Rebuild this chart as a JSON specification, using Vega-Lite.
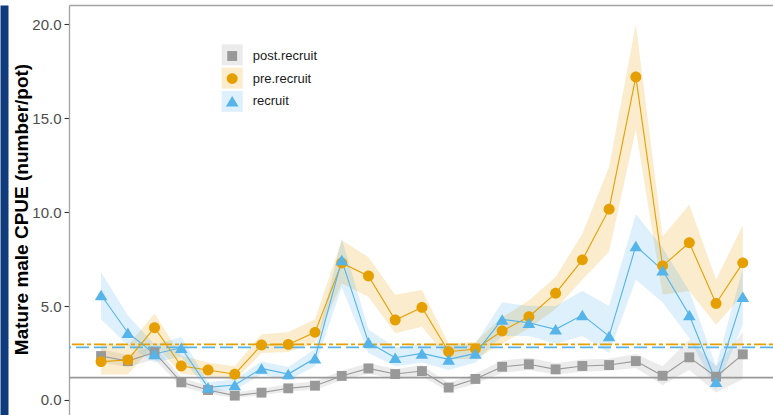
{
  "$schema": "https://vega.github.io/schema/vega-lite/v6.json",
  "width": 704,
  "height": 410,
  "autosize": {"type": "none"},
  "padding": {"left": 69, "top": 5, "right": 0, "bottom": 0},
  "background": "white",
  "config": {
    "view": {"stroke": null},
    "font": "Liberation Sans",
    "axis": {"grid": false}
  },
  "datasets": {
    "cpue": [
      {"year": 1995, "series": "post.recruit", "cpue": 2.34, "lo": 2.0, "hi": 2.7},
      {"year": 1996, "series": "post.recruit", "cpue": 2.07, "lo": 1.75, "hi": 2.4},
      {"year": 1997, "series": "post.recruit", "cpue": 2.54, "lo": 2.15, "hi": 2.9},
      {"year": 1998, "series": "post.recruit", "cpue": 0.94, "lo": 0.7, "hi": 1.2},
      {"year": 1999, "series": "post.recruit", "cpue": 0.53, "lo": 0.35, "hi": 0.75},
      {"year": 2000, "series": "post.recruit", "cpue": 0.23, "lo": 0.1, "hi": 0.4},
      {"year": 2001, "series": "post.recruit", "cpue": 0.39, "lo": 0.25, "hi": 0.6},
      {"year": 2002, "series": "post.recruit", "cpue": 0.62, "lo": 0.45, "hi": 0.85},
      {"year": 2003, "series": "post.recruit", "cpue": 0.76, "lo": 0.55, "hi": 1.0},
      {"year": 2004, "series": "post.recruit", "cpue": 1.28, "lo": 1.05, "hi": 1.55},
      {"year": 2005, "series": "post.recruit", "cpue": 1.68, "lo": 1.4, "hi": 1.95},
      {"year": 2006, "series": "post.recruit", "cpue": 1.38, "lo": 1.1, "hi": 1.65},
      {"year": 2007, "series": "post.recruit", "cpue": 1.54, "lo": 1.25, "hi": 1.85},
      {"year": 2008, "series": "post.recruit", "cpue": 0.66, "lo": 0.45, "hi": 0.9},
      {"year": 2009, "series": "post.recruit", "cpue": 1.12, "lo": 0.85, "hi": 1.4},
      {"year": 2010, "series": "post.recruit", "cpue": 1.77, "lo": 1.45, "hi": 2.1},
      {"year": 2011, "series": "post.recruit", "cpue": 1.9, "lo": 1.6, "hi": 2.25},
      {"year": 2012, "series": "post.recruit", "cpue": 1.63, "lo": 1.35, "hi": 1.95},
      {"year": 2013, "series": "post.recruit", "cpue": 1.81, "lo": 1.5, "hi": 2.15},
      {"year": 2014, "series": "post.recruit", "cpue": 1.86, "lo": 1.55, "hi": 2.2},
      {"year": 2015, "series": "post.recruit", "cpue": 2.07, "lo": 1.7, "hi": 2.45},
      {"year": 2016, "series": "post.recruit", "cpue": 1.29, "lo": 0.8, "hi": 1.8},
      {"year": 2017, "series": "post.recruit", "cpue": 2.27, "lo": 1.6, "hi": 3.2},
      {"year": 2018, "series": "post.recruit", "cpue": 1.24, "lo": 0.4, "hi": 1.8},
      {"year": 2019, "series": "post.recruit", "cpue": 2.43, "lo": 1.1, "hi": 3.6},
      {"year": 1995, "series": "pre.recruit", "cpue": 2.04, "lo": 1.35, "hi": 3.0},
      {"year": 1996, "series": "pre.recruit", "cpue": 2.13, "lo": 1.35, "hi": 2.9},
      {"year": 1997, "series": "pre.recruit", "cpue": 3.85, "lo": 2.95, "hi": 4.6},
      {"year": 1998, "series": "pre.recruit", "cpue": 1.81, "lo": 1.4, "hi": 2.35},
      {"year": 1999, "series": "pre.recruit", "cpue": 1.6, "lo": 1.25, "hi": 2.0},
      {"year": 2000, "series": "pre.recruit", "cpue": 1.37, "lo": 1.05, "hi": 1.8},
      {"year": 2001, "series": "pre.recruit", "cpue": 2.93, "lo": 2.5, "hi": 3.5},
      {"year": 2002, "series": "pre.recruit", "cpue": 2.96, "lo": 2.55, "hi": 3.6},
      {"year": 2003, "series": "pre.recruit", "cpue": 3.6, "lo": 3.05, "hi": 4.3},
      {"year": 2004, "series": "pre.recruit", "cpue": 7.29, "lo": 6.2, "hi": 8.5},
      {"year": 2005, "series": "pre.recruit", "cpue": 6.6, "lo": 5.5, "hi": 7.6},
      {"year": 2006, "series": "pre.recruit", "cpue": 4.26, "lo": 3.55, "hi": 5.6},
      {"year": 2007, "series": "pre.recruit", "cpue": 4.93, "lo": 3.9, "hi": 5.85},
      {"year": 2008, "series": "pre.recruit", "cpue": 2.57, "lo": 2.15, "hi": 3.0},
      {"year": 2009, "series": "pre.recruit", "cpue": 2.71, "lo": 2.2, "hi": 3.1},
      {"year": 2010, "series": "pre.recruit", "cpue": 3.67, "lo": 3.0, "hi": 4.4},
      {"year": 2011, "series": "pre.recruit", "cpue": 4.43, "lo": 3.8, "hi": 5.3},
      {"year": 2012, "series": "pre.recruit", "cpue": 5.68, "lo": 4.85, "hi": 6.55},
      {"year": 2013, "series": "pre.recruit", "cpue": 7.46, "lo": 6.4, "hi": 8.85},
      {"year": 2014, "series": "pre.recruit", "cpue": 10.16, "lo": 7.9, "hi": 12.4},
      {"year": 2015, "series": "pre.recruit", "cpue": 17.2, "lo": 14.4, "hi": 20.0},
      {"year": 2016, "series": "pre.recruit", "cpue": 7.14, "lo": 5.6, "hi": 8.7},
      {"year": 2017, "series": "pre.recruit", "cpue": 8.37, "lo": 5.8, "hi": 10.4},
      {"year": 2018, "series": "pre.recruit", "cpue": 5.14, "lo": 4.0, "hi": 6.4},
      {"year": 2019, "series": "pre.recruit", "cpue": 7.3, "lo": 5.6, "hi": 9.3},
      {"year": 1995, "series": "recruit", "cpue": 5.59, "lo": 4.3, "hi": 6.8},
      {"year": 1996, "series": "recruit", "cpue": 3.58, "lo": 2.9, "hi": 4.5},
      {"year": 1997, "series": "recruit", "cpue": 2.45, "lo": 2.0, "hi": 2.95},
      {"year": 1998, "series": "recruit", "cpue": 2.78, "lo": 2.3, "hi": 3.35},
      {"year": 1999, "series": "recruit", "cpue": 0.67, "lo": 0.45, "hi": 0.95},
      {"year": 2000, "series": "recruit", "cpue": 0.8, "lo": 0.55, "hi": 1.1},
      {"year": 2001, "series": "recruit", "cpue": 1.68, "lo": 1.35, "hi": 2.05},
      {"year": 2002, "series": "recruit", "cpue": 1.38, "lo": 1.05, "hi": 1.75},
      {"year": 2003, "series": "recruit", "cpue": 2.22, "lo": 1.8, "hi": 2.7},
      {"year": 2004, "series": "recruit", "cpue": 7.45, "lo": 6.0, "hi": 8.6},
      {"year": 2005, "series": "recruit", "cpue": 3.07, "lo": 2.5, "hi": 3.75},
      {"year": 2006, "series": "recruit", "cpue": 2.25, "lo": 1.8, "hi": 2.8},
      {"year": 2007, "series": "recruit", "cpue": 2.48, "lo": 2.0, "hi": 3.0},
      {"year": 2008, "series": "recruit", "cpue": 2.16, "lo": 1.6, "hi": 2.9},
      {"year": 2009, "series": "recruit", "cpue": 2.48, "lo": 2.0, "hi": 3.0},
      {"year": 2010, "series": "recruit", "cpue": 4.29, "lo": 3.4, "hi": 5.2},
      {"year": 2011, "series": "recruit", "cpue": 4.11, "lo": 3.4, "hi": 5.0},
      {"year": 2012, "series": "recruit", "cpue": 3.76, "lo": 3.0, "hi": 5.0},
      {"year": 2013, "series": "recruit", "cpue": 4.52, "lo": 3.4, "hi": 5.8},
      {"year": 2014, "series": "recruit", "cpue": 3.4, "lo": 2.5, "hi": 5.0},
      {"year": 2015, "series": "recruit", "cpue": 8.2, "lo": 6.4, "hi": 9.9},
      {"year": 2016, "series": "recruit", "cpue": 6.91, "lo": 5.2, "hi": 8.1},
      {"year": 2017, "series": "recruit", "cpue": 4.52, "lo": 3.3, "hi": 5.8},
      {"year": 2018, "series": "recruit", "cpue": 0.97, "lo": 0.55, "hi": 1.8},
      {"year": 2019, "series": "recruit", "cpue": 5.5, "lo": 4.0, "hi": 7.0}
    ],
    "means": [
      {"series": "post.recruit", "cpue": 1.19},
      {"series": "pre.recruit", "cpue": 2.96},
      {"series": "recruit", "cpue": 2.8}
    ]
  },
  "layer": [
    {
      "layer": [
        {
          "data": {"name": "cpue"},
          "transform": [{"calculate": "datum.series", "as": "band"}],
          "mark": {"type": "area", "fillOpacity": 0.2},
          "encoding": {
            "x": {
              "field": "year", "type": "quantitative",
              "scale": {"domain": [1993.8, 2020.13], "nice": false, "zero": false},
              "axis": {"orient": "top", "domain": true, "ticks": false, "labels": false, "title": null, "grid": false, "domainColor": "#a3a3a3", "domainWidth": 1.3}
            },
            "y": {
              "field": "lo", "type": "quantitative",
              "scale": {"domain": [-0.8, 21.03], "nice": false, "zero": false},
              "title": "Mature male CPUE (number/pot)",
              "axis": {
                "orient": "left", "values": [0, 5, 10, 15, 20], "format": ".1f", "grid": false,
                "domainColor": "#a3a3a3", "domainWidth": 1.3,
                "tickColor": "#333333", "tickSize": 5, "tickWidth": 1.1,
                "labelFontSize": 15, "labelColor": "#4d4d4d", "labelPadding": 3, "labelFont": "Liberation Sans",
                "titleFont": "Liberation Sans", "titleFontSize": 19, "titleFontWeight": "bold", "titleColor": "#000000",
                "titleX": -41.5, "titleY": 204, "titleBaseline": "alphabetic", "titleAlign": "center", "titleAngle": -90
              }
            },
            "y2": {"field": "hi"},
            "fill": {
              "field": "band", "type": "nominal",
              "scale": {"range": ["#999999", "#E69F00", "#56B4E9"]},
              "legend": {
                "orient": "none", "legendX": 152.7, "legendY": 39.3, "title": null, "padding": 0,
                "symbolType": "square", "symbolSize": 441, "symbolStrokeWidth": 0, "symbolOpacity": 0.2,
                "labelFontSize": 13, "labelOffset": 10, "rowPadding": 2.3, "labelExpr": "''"
              }
            }
          }
        },
        {
          "data": {"name": "means"},
          "mark": {"type": "rule", "strokeWidth": 1.8},
          "encoding": {
            "y": {"field": "cpue", "type": "quantitative", "title": "Mature male CPUE (number/pot)"},
            "stroke": {"field": "series", "type": "nominal", "scale": {"range": ["#999999", "#E69F00", "#56B4E9"]}, "legend": null},
            "strokeDash": {"field": "series", "type": "nominal", "scale": {"range": [[1, 0], [4, 3, 12, 3], [13, 5]]}, "legend": null}
          }
        },
        {
          "data": {"name": "cpue"},
          "mark": {"type": "line", "strokeWidth": 1.1},
          "encoding": {
            "x": {"field": "year", "type": "quantitative"},
            "y": {"field": "cpue", "type": "quantitative", "title": "Mature male CPUE (number/pot)"},
            "stroke": {"field": "series", "type": "nominal", "legend": null}
          }
        },
        {
          "data": {"name": "cpue"},
          "mark": {"type": "point", "filled": true, "opacity": 1, "size": 441, "strokeWidth": 0},
          "encoding": {
            "x": {"field": "year", "type": "quantitative"},
            "y": {"field": "cpue", "type": "quantitative", "title": "Mature male CPUE (number/pot)"},
            "color": {
              "field": "series", "type": "nominal",
              "scale": {"range": ["#999999", "#E69F00", "#56B4E9"]},
              "legend": {
                "orient": "none", "legendX": 152.7, "legendY": 40.5, "title": null, "padding": 0,
                "symbolSize": 441, "symbolStrokeWidth": 0, "symbolOpacity": 1,
                "labelFontSize": 13, "labelOffset": 10, "rowPadding": 4.6, "labelColor": "#1a1a1a", "labelFont": "Liberation Sans",
                "encode": {
                  "symbols": {
                    "update": {
                      "shape": {"signal": "datum.value === 'post.recruit' ? 'M-1,-1M1,1M-1,-0.05H1V0.05H-1Z M-0.46,-0.46H0.46V0.46H-0.46Z' : (datum.value === 'pre.recruit' ? 'M-1,-1M1,1M-1,-0.05H1V0.05H-1Z M0.52,0A0.52,0.52 0 1,1 -0.52,0A0.52,0.52 0 1,1 0.52,0Z' : 'M-1,-1M1,1M-1,-0.05H1V0.05H-1Z M0,-0.5L0.6,0.5L-0.6,0.5Z')"}
                    }
                  }
                }
              }
            },
            "shape": {
              "field": "series", "type": "nominal",
              "scale": {"range": ["M-0.47,-0.47H0.47V0.47H-0.47Z", "M0.52,0A0.52,0.52 0 1,1 -0.52,0A0.52,0.52 0 1,1 0.52,0Z", "M0,-0.5L0.6,0.5L-0.6,0.5Z"]},
              "legend": null
            }
          }
        }
      ]
    },
    {
      "data": {"name": "means"},
      "mark": {"type": "rule", "opacity": 0},
      "encoding": {
        "y": {
          "field": "cpue", "type": "quantitative",
          "axis": {"orient": "left", "offset": 65, "domainWidth": 8, "domainColor": "#0f3a7c", "ticks": false, "labels": false, "title": null, "grid": false}
        }
      }
    }
  ],
  "resolve": {"scale": {"y": "independent"}}
}
